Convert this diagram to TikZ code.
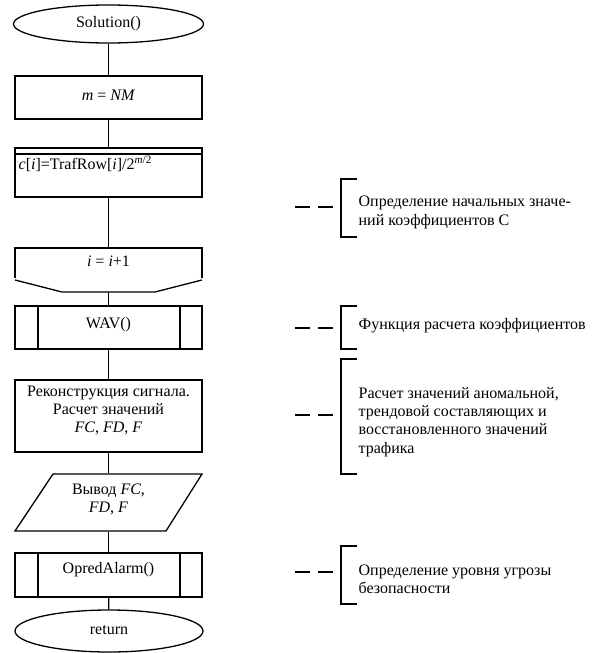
\documentclass[tikz,border=0pt]{standalone}
\usepackage{fontspec}
\setmainfont{Liberation Serif}
\usetikzlibrary{shapes.geometric}
\begin{document}
\begin{tikzpicture}[x=1pt,y=-1pt,
  line width=1.3pt,
  every node/.style={font=\fontsize{16}{18.4}\selectfont, inner sep=0pt},
  term/.style={draw, ellipse, minimum width=190pt, minimum height=38pt},
  proc/.style={draw, rectangle, minimum width=187pt},
  txt/.style={align=center},
  note/.style={anchor=west, align=left, inner sep=2pt},
  lead/.style={dash pattern=on 15pt off 8pt}
]
\useasboundingbox (0,0) rectangle (599,653);

% ---- main flow ----
\node[term] (start) at (108.5,24) {};
\node (startt) at (108.5,24) {Solution()};
\node[proc, minimum height=43pt] (setm) at (108.5,97.5) {};
\node (setmt) at (108.5,95) {\textit{m} = \textit{NM}};
\node[proc, minimum height=49pt] (init) at (108.5,172.5) {};
\draw (15,154) -- (202,154);
\node[anchor=west] (initt) at (18,164) {\textit{c}[\textit{i}]=TrafRow[\textit{i}]/2\textsuperscript{\textit{m}/2}};

% loop limit block
\coordinate (looptop) at (108.5,248);
\coordinate (loopbot) at (108.5,292);
\draw (15,278) -- (15,248) -- (202,248) -- (202,278);
\draw (15,280) -- (62,292) -- (155,292) -- (202,280);
\node (loopt) at (108.5,261) {\textit{i} = \textit{i}+1};

\node[proc, minimum height=43pt] (wav) at (108.5,327.5) {};
\draw (38,306) -- (38,349) (180,306) -- (180,349);
\node (wavt) at (108.5,325) {WAV()};

\node[proc, minimum height=72pt, txt] (recon) at (108.5,416) {};
\node[txt] (recont) at (108.5,410.5) {Реконструкция сигнала.\\Расчет значений\\\textit{FC}, \textit{FD}, \textit{F}};

% data output block (parallelogram)
\node[minimum height=57pt, minimum width=120pt] (out) at (108.5,502.5) {};
\draw (53,474) -- (202,474) -- (166,531) -- (15,531) -- cycle;
\node[txt] (outt) at (108.5,499.5) {Вывод \textit{FC},\\\textit{FD}, \textit{F}};

\node[proc, minimum height=44pt] (alarm) at (108.5,575) {};
\draw (38,553) -- (38,597) (180,553) -- (180,597);
\node (alarmt) at (108.5,570) {OpredAlarm()};

\node[term, minimum height=42pt, minimum width=188pt] (stop) at (109,631) {};
\node (stopt) at (109,630) {return};

\draw (start) -- (setm);
\draw (setm) -- (init);
\draw (init) -- (looptop);
\draw (loopbot) -- (wav);
\draw (wav) -- (recon);
\draw (recon) -- (out);
\draw (out) -- (alarm);
\draw (alarm) -- (stop);

% ---- comments ----
\node[note] (n1) at (356,212.5) {Определение начальных значе-\\ний коэффициентов С};
\draw (357,179) -- (341,179) -- (341,237) -- (357,237);
\coordinate (d1) at (295,207);
\draw[lead] (d1) -- (341,207);

\node[note] (n2) at (356,326) {Функция расчета коэффициентов};
\draw (357,306) -- (341,306) -- (341,349) -- (357,349);
\coordinate (d2) at (295,328);
\draw[lead] (d2) -- (341,328);

\node[note] (n3) at (356,422) {Расчет значений аномальной,\\трендовой составляющих и\\восстановленного значений\\трафика};
\draw (357,359) -- (341,359) -- (341,474) -- (357,474);
\coordinate (d3) at (295,415);
\draw[lead] (d3) -- (341,415);

\node[note] (n4) at (356,579) {Определение уровня угрозы\\безопасности};
\draw (357,546) -- (341,546) -- (341,604) -- (357,604);
\coordinate (d4) at (295,572);
\draw[lead] (d4) -- (341,572);
\end{tikzpicture}
\end{document}
